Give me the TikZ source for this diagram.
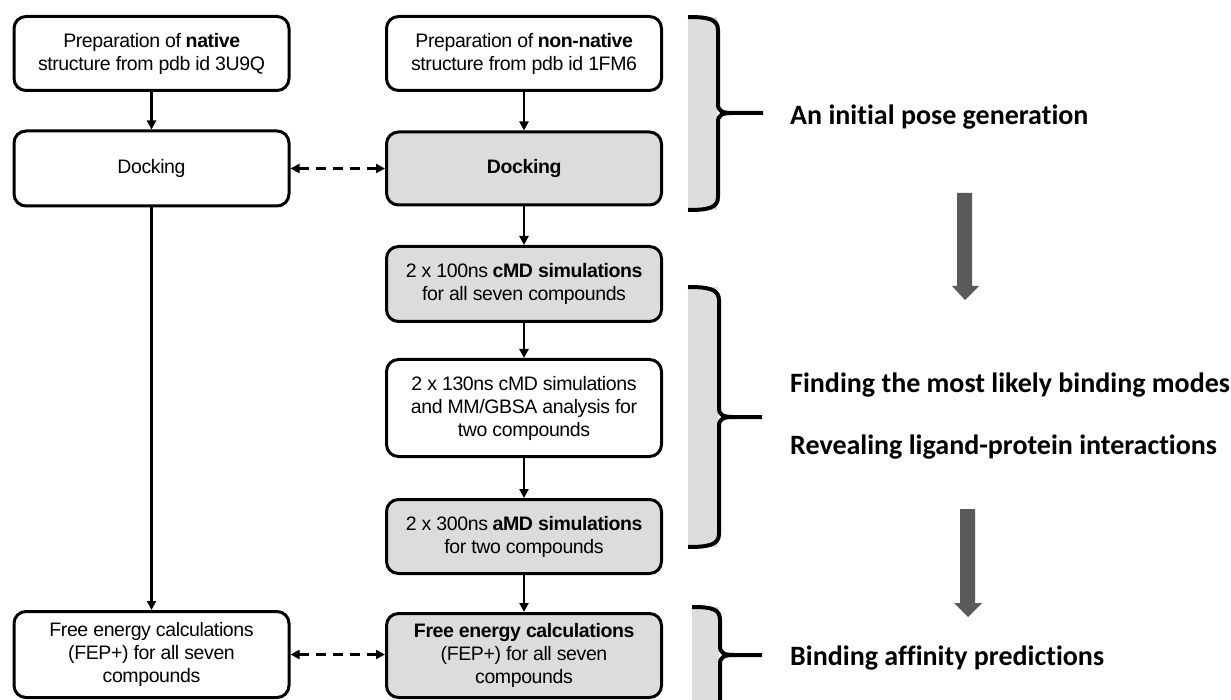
\documentclass[tikz,border=0pt]{standalone}
\usepackage{fontspec}
\setmainfont{Liberation Sans}[LetterSpace=-2]
\newfontfamily\calib{Carlito}[Ligatures=NoCommon]
\usetikzlibrary{arrows.meta}
\definecolor{boxgray}{RGB}{220,220,220}
\definecolor{arrgray}{RGB}{90,90,90}
\definecolor{brgray}{RGB}{221,221,221}
\begin{document}
\begin{tikzpicture}[x=1pt,y=-1pt,
 box/.style={draw=black, line width=3pt, rounded corners=12pt, minimum width=275pt, align=center, font=\fontsize{19.5}{23}\selectfont, inner sep=0pt},
 graybox/.style={box, fill=boxgray},
 conn/.style={line width=2.2pt, -{Triangle[length=9pt,width=9pt]}},
 dconn/.style={line width=2.6pt, {Triangle[length=9pt,width=9pt]}-{Triangle[length=9pt,width=9pt]}, dash pattern=on 10pt off 7pt},
 lab/.style={font=\calib\bfseries\fontsize{28}{32}\selectfont, anchor=west, inner sep=0pt},
 brace/.style={line width=4pt, line cap=butt},
 bigarrow/.style={fill=arrgray, draw=none}]
\useasboundingbox (0,0) rectangle (1231,700);
\fill[white] (0,0) rectangle (1231,700);

% left column
\node[box, minimum height=74pt] (prepA) at (151.5,53.5) {Preparation of \textbf{native}\\structure from pdb id 3U9Q};
\node[box, minimum height=75pt] (dockA) at (151.5,168.5) {Docking};
\node[box, minimum height=86pt] (feA) at (151.5,654.5) {Free energy calculations\\(FEP+) for all seven\\compounds};

% middle column
\node[box, minimum height=74pt] (prepB) at (524,53.5) {Preparation of \textbf{non-native}\\structure from pdb id 1FM6};
\node[graybox, minimum height=73pt] (dockB) at (524,168.5) {\textbf{Docking}};
\node[graybox, minimum height=75pt] (cmd) at (524,284) {2 x 100ns \textbf{cMD simulations}\\for all seven compounds};
\node[box, minimum height=97pt] (md130) at (524,408) {2 x 130ns cMD simulations\\and MM/GBSA analysis for\\two compounds};
\node[graybox, minimum height=74pt] (amd) at (524,536.5) {2 x 300ns \textbf{aMD simulations}\\for two compounds};
\node[graybox, minimum height=84pt] (feB) at (524,655.5) {\textbf{Free energy calculations}\\(FEP+) for all seven\\compounds};

% connectors
\draw[conn] (prepA) -- (dockA);
\draw[conn] (dockA) -- (feA);
\draw[conn] (prepB) -- (dockB);
\draw[conn] (dockB) -- (cmd);
\draw[conn] (cmd) -- (md130);
\draw[conn] (md130) -- (amd);
\draw[conn] (amd) -- (feB);
\draw[dconn] (dockA.east) -- (dockB.west);
\draw[dconn] (feA.east) -- (feA.east -| feB.west);

% brackets
\fill[brgray] (688,17) rectangle (717,210);
\draw[brace] (688,17) .. controls (708,17) and (718,19) .. (718,30) -- (718,104) .. controls (718,111) and (722,113) .. (732,113) -- (763,113);
\draw[brace] (688,210) .. controls (708,210) and (718,208) .. (718,197) -- (718,122) .. controls (718,115) and (722,113) .. (732,113);

\fill[brgray] (688,287) rectangle (718,547);
\draw[brace] (688,287) .. controls (708,287) and (719,289) .. (719,300) -- (719,408) .. controls (719,415) and (723,417) .. (733,417) -- (762,417);
\draw[brace] (688,547) .. controls (708,547) and (719,545) .. (719,534) -- (719,426) .. controls (719,419) and (723,417) .. (733,417);

\fill[brgray] (692,607) rectangle (719,700);
\draw[brace] (692,607) .. controls (712,607) and (720,609) .. (720,620) -- (720,646) .. controls (720,653) and (724,655) .. (734,655) -- (762,655);
\draw[brace] (720,700) -- (720,664) .. controls (720,657) and (724,655) .. (734,655);

% labels
\node[lab] (l1) at (790,117) {An initial pose generation};
\node[lab] (l2) at (790,385) {Finding the most likely binding modes};
\node[lab] (l3) at (790,447) {Revealing ligand-protein interactions};
\node[lab] (l4) at (790,658) {Binding affinity predictions};

% big arrows
\fill[bigarrow] (957,193) -- (972,193) -- (972,286) -- (979,286) -- (965,300) -- (952,286) -- (957,286) -- cycle;
\fill[bigarrow] (960,509) -- (975,509) -- (975,603) -- (982,603) -- (968,617) -- (954,603) -- (960,603) -- cycle;
\end{tikzpicture}
\end{document}
